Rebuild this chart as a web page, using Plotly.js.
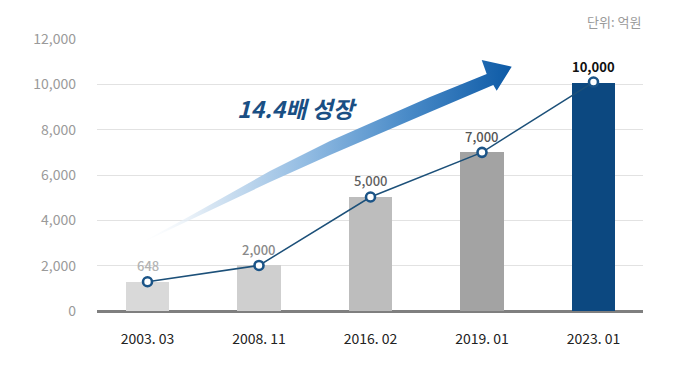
<!DOCTYPE html>
<html><head><meta charset="utf-8">
<script src="https://cdn.plot.ly/plotly-3.0.1.min.js"></script>
<style>html,body{margin:0;padding:0;background:#fff}#chart{width:680px;height:392px}</style>
</head><body><div id="chart"></div>
<script>
// Data
const categories = ['2003. 03', '2008. 11', '2016. 02', '2019. 01', '2023. 01'];
const valueLabels = ['648', '2,000', '5,000', '7,000', '10,000'];
// heights as drawn in the picture (the first bar is drawn taller than its 648 label)
const barHeights = [1300, 2040, 5040, 7000, 10060];
const linePoints = [1290, 2010, 5030, 7000, 10100];
const yTickVals = [0, 2000, 4000, 6000, 8000, 10000, 12000];
const yTickText = ['0', '2,000', '4,000', '6,000', '8,000', '10,000', '12,000'];
const barColors = ['#d9d9d9', '#cfcfcf', '#bdbdbd', '#a3a3a3', '#0c4880'];
const labelColors = ['#b3b3b3', '#8a8a8a', '#5f5f5f', '#555555', '#111111'];
const unitText = '단위: 억원';
const growthText = '14.4배 성장';

const FONT = 'Noto Sans CJK KR, Noto Sans, sans-serif';

// decorative growth arrow (gradient), drawn as an SVG image in paper space
const arrowSvg = '<svg xmlns="http://www.w3.org/2000/svg" width="390" height="200" viewBox="0 0 390 200" preserveAspectRatio="none">' +
  '<defs><linearGradient id="g" x1="3" y1="0" x2="382" y2="0" gradientUnits="userSpaceOnUse">' +
  '<stop offset="0" stop-color="#ffffff" stop-opacity="0"/>' +
  '<stop offset="0.2" stop-color="#d8e6f3"/>' +
  '<stop offset="0.45" stop-color="#94bde3"/>' +
  '<stop offset="0.72" stop-color="#4a8bc8"/>' +
  '<stop offset="1" stop-color="#0d5aa6"/></linearGradient></defs>' +
  '<path d="M3,192 L60,161 L140,116 L200,86 L300,42 L356.7,19 L351.7,5 L381.7,11.7 L366.7,35.7 L363.3,30 L300,57 L200,100 L140,127 L60,165 Z" fill="url(#g)"/></svg>';

const traces = [
  {
    type: 'bar', x: categories, y: barHeights,
    marker: { color: barColors }, width: 0.386,
    hoverinfo: 'skip', showlegend: false
  },
  {
    type: 'scatter', mode: 'lines+markers', x: categories, y: linePoints,
    line: { color: '#1c5079', width: 1.5 },
    marker: { size: 9, color: '#ffffff', line: { color: '#1b5487', width: 2.6 } },
    hoverinfo: 'skip', showlegend: false
  }
];

const annotations = categories.map((c, i) => ({
  x: c, y: linePoints[i], xref: 'x', yref: 'y',
  text: i === 4 ? '<b>' + valueLabels[i] + '</b>' : valueLabels[i],
  showarrow: false, yshift: 16, yanchor: 'middle',
  font: { family: FONT, size: 13, color: labelColors[i], weight: i === 4 ? 700 : 500 }
}));
annotations.push({
  xref: 'paper', yref: 'paper', x: 1, y: 1.064, xanchor: 'right', yanchor: 'middle',
  text: unitText, showarrow: false,
  font: { family: FONT, size: 13, color: '#9a9a9a' }
});
annotations.push({
  xref: 'paper', yref: 'paper', x: 0.368, y: 0.747, xanchor: 'center', yanchor: 'middle',
  text: '<b><i>' + growthText + '</i></b>', showarrow: false,
  font: { family: FONT, size: 23, color: '#1a4f84' }
});

const layout = {
  width: 680, height: 392,
  margin: { l: 97, r: 37, t: 39, b: 81, pad: 0 },
  paper_bgcolor: '#ffffff', plot_bgcolor: '#ffffff',
  font: { family: FONT },
  bargap: 0,
  xaxis: {
    type: 'category', range: [-0.453, 4.444],
    showgrid: false, showline: false, zeroline: false, ticks: '',
    tickfont: { family: FONT, size: 14, color: '#222222' },
    ticklabelstandoff: 18, fixedrange: true
  },
  yaxis: {
    range: [0, 12000], tickvals: yTickVals, ticktext: yTickText,
    showgrid: true, gridcolor: '#e2e2e2', gridwidth: 1,
    zeroline: true, zerolinecolor: '#7f7f7f', zerolinewidth: 3,
    showline: false, ticks: '',
    tickfont: { family: FONT, size: 14, color: '#9a9a9a' },
    ticklabelstandoff: 20, fixedrange: true
  },
  annotations: annotations,
  images: [{
    source: 'data:image/svg+xml;charset=utf-8,' + encodeURIComponent(arrowSvg),
    xref: 'paper', yref: 'paper',
    x: (130 - 97) / 546, y: (311 - 55) / 272,
    sizex: 390 / 546, sizey: 200 / 272,
    xanchor: 'left', yanchor: 'top', sizing: 'stretch', layer: 'above'
  }]
};

Plotly.newPlot('chart', traces, layout, { displayModeBar: false, staticPlot: true });
</script>
</body></html>
